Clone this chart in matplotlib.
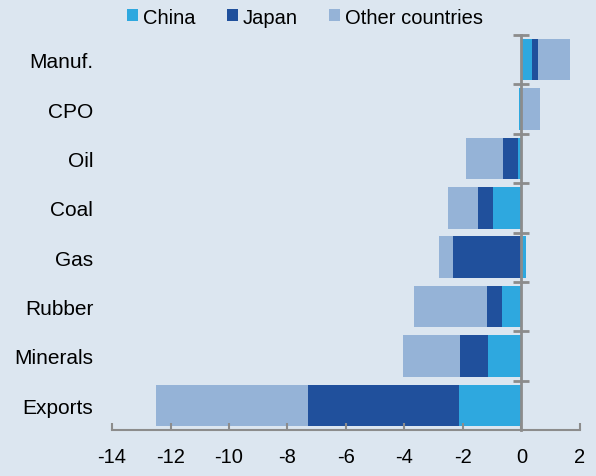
import numpy as np
import matplotlib
matplotlib.use("Agg")
import matplotlib.pyplot as plt
from matplotlib.ticker import MultipleLocator

# Values (top to bottom)
categories = ["Manuf.", "CPO", "Oil", "Coal", "Gas", "Rubber", "Minerals", "Exports"]
china = [0.35, -0.07, -0.13, -0.97, 0.15, -0.66, -1.14, -2.12]
japan = [0.23, 0.0, -0.51, -0.51, -2.33, -0.51, -0.96, -5.19]
other = [1.07, 0.62, -1.26, -1.04, -0.48, -2.52, -1.96, -5.17]

series = [("China", china, "#2ea8df"),
          ("Japan", japan, "#20509c"),
          ("Other countries", other, "#95b3d7")]

bg = "#dce6f0"
axis_col = "#8c8c8c"

plt.rcParams["font.family"] = ["Liberation Sans", "DejaVu Sans"]
plt.rcParams["axes.unicode_minus"] = False

fig = plt.figure(figsize=(5.96, 4.77), dpi=100, facecolor=bg)
ax = fig.add_axes([0.188, 0.0964, 0.785, 0.828])
ax.set_facecolor(bg)

y = np.arange(len(categories))[::-1]
pos_base = np.zeros(len(categories))
neg_base = np.zeros(len(categories))
for name, vals, col in series:
    v = np.array(vals)
    left = np.where(v >= 0, pos_base, neg_base)
    ax.barh(y, v, left=left, height=0.84, color=col, label=name, edgecolor="none")
    pos_base += np.where(v >= 0, v, 0)
    neg_base += np.where(v < 0, v, 0)

ax.set_xlim(-14, 2)
ax.set_ylim(-0.5, len(categories) - 0.5)
ax.xaxis.set_major_locator(MultipleLocator(2))

# labels on the left, axis line at zero with boundary ticks
ax.set_yticks(y)
ax.set_yticklabels(categories)
ax.set_yticks(np.arange(0.5, len(categories) + 0.5, 1.0), minor=True)
ax.tick_params(axis="y", which="major", left=False, right=False, pad=10,
               labelsize=15, colors="black")
ax.tick_params(axis="y", which="minor", left=False, right=True,
               direction="inout", length=12, width=2, color=axis_col)
ax.tick_params(axis="x", direction="in", length=5, width=1.5, color=axis_col,
               labelsize=14.5, pad=12)

for s in ["top", "left"]:
    ax.spines[s].set_visible(False)
ax.spines["right"].set_position(("data", 0))
ax.spines["right"].set_color(axis_col)
ax.spines["right"].set_linewidth(2)
ax.spines["bottom"].set_color(axis_col)
ax.spines["bottom"].set_linewidth(1.5)

fig.legend(*ax.get_legend_handles_labels(), loc="center left",
           bbox_to_anchor=(127 / 596, 1 - 18 / 477), ncol=3, frameon=False,
           fontsize=14.5, handlelength=0.55, handleheight=0.55, handletextpad=0.25,
           columnspacing=1.55, borderaxespad=0, borderpad=0)

fig.savefig("out.png", dpi=100, facecolor=bg)
